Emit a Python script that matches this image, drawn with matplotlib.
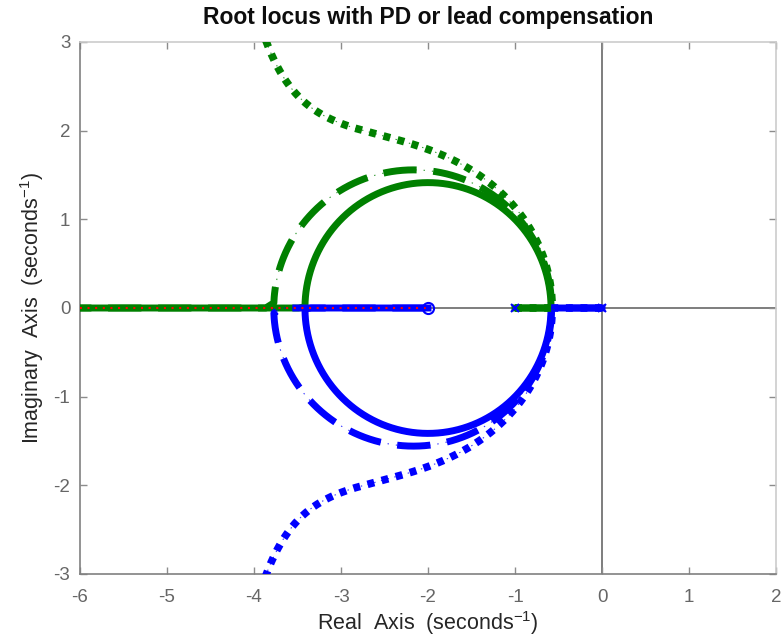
import numpy as np
import matplotlib
matplotlib.use("Agg")
import matplotlib.pyplot as plt

# ---- data ----
plant_poles = [0.0, -1.0]          # open-loop poles (x markers)
comp_zero = [-2.0]                 # PD / lead zero (o marker)
lead_poles = [20.0, 10.0]          # lead-compensator poles: dashed, dotted
x_ticks = [-6, -5, -4, -3, -2, -1, 0, 1, 2]
y_ticks = [-3, -2, -1, 0, 1, 2, 3]

plt.rcParams['font.family'] = ['Liberation Sans', 'DejaVu Sans']
plt.rcParams['lines.scale_dashes'] = False
plt.rcParams['axes.unicode_minus'] = False

BLUE = '#0000ff'
GREEN = '#008000'
RED = '#ff0000'

gains = np.concatenate([[0.0], np.logspace(-4, 4.5, 30000)])


def locus(den, num, ks):
    n = len(den) - 1
    out = np.zeros((len(ks), n), complex)
    phase = 0
    prev_c = False
    for i, k in enumerate(ks):
        r = np.roots(np.polyadd(den, k * np.asarray(num)))
        isc = np.abs(r.imag) > 1e-6 * np.maximum(1, np.abs(r))
        cnow = bool(isc.any())
        if cnow and not prev_c:
            phase += 1
        prev_c = cnow
        if not cnow:
            rr = list(np.sort(r.real)[::-1])
        else:
            pair = r[isc]
            lo = pair[np.argmin(pair.imag)]
            hi = pair[np.argmax(pair.imag)]
            if n == 2:
                rr = [lo, hi]
            else:
                real = r[~isc].real[0]
                rr = [lo, hi, real] if phase == 1 else [real, hi, lo]
        out[i] = rr
    return out


num = np.poly(comp_zero)
den_pd = np.poly(plant_poles)
systems = [
    (den_pd, dict(lw=5, ls='-'), None),
    (np.poly(plant_poles + [-lead_poles[0]]), dict(lw=5, ls=(0, (24, 12)), dash_capstyle='butt'), (0, (1, 5))),
    (np.poly(plant_poles + [-lead_poles[1]]), dict(lw=5.5, ls=(0, (5, 5.5)), dash_capstyle='butt'), (0, (1, 4))),
]

fig = plt.figure(figsize=(7.84, 6.36), dpi=100)
ax = fig.add_axes([80 / 784, 62 / 636, 696 / 784, 532 / 636])

ax.axhline(0, color='0.45', lw=1.3, zorder=1)
ax.axvline(0, color='0.45', lw=1.3, zorder=1)

colors = [BLUE, GREEN, RED]
for si, (den, style, thin) in enumerate(systems):
    R = locus(den, num, gains)
    for b in range(R.shape[1]):
        c = colors[b]
        if b == 2:
            ax.plot(R[:, b].real, R[:, b].imag, color=c, lw=1.5, ls=(0, (1.5, 4)), zorder=5)
            continue
        ax.plot(R[:, b].real, R[:, b].imag, color=c, zorder=3 + si * 0.1, **style)
        if thin is not None:
            ax.plot(R[:, b].real, R[:, b].imag, color=c, lw=0.8, ls=thin, zorder=3, alpha=0.8)

ax.plot(plant_poles, np.zeros(len(plant_poles)), 'x', color=BLUE, ms=6, mew=1.5, zorder=6)
ax.plot(comp_zero, np.zeros(len(comp_zero)), 'o', color=BLUE, mfc='none', ms=8, mew=1.5, zorder=6)

ax.set_xlim(-6, 2)
ax.set_ylim(-3, 3)
ax.set_xticks(x_ticks)
ax.set_yticks(y_ticks)
ax.tick_params(direction='in', length=5, width=1, colors='0.55', labelcolor='0.4',
               labelsize=13.5, top=True, right=True, pad=7)
ax.tick_params(axis='x', pad=11)
for s in ['left', 'bottom']:
    ax.spines[s].set_color('0.5')
    ax.spines[s].set_linewidth(1.2)
for s in ['top', 'right']:
    ax.spines[s].set_color('0.8')
    ax.spines[s].set_linewidth(1.2)

ax.set_xlabel('Real  Axis  (seconds$^{\\mathregular{-1}}$)', fontsize=15.5, color='0.15', labelpad=2)
ax.set_ylabel('Imaginary  Axis  (seconds$^{\\mathregular{-1}}$)', fontsize=15.5, color='0.15', labelpad=5)
ax.set_title('Root locus with PD or lead compensation', fontsize=16.5, fontweight='bold',
             color='0.05', pad=13)

fig.savefig('out.png', dpi=100)
